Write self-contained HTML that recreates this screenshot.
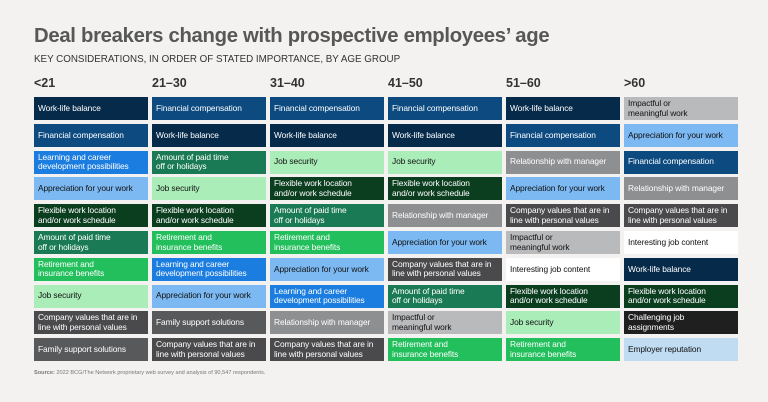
<!DOCTYPE html>
<html><head><meta charset="utf-8"><style>
body{margin:0;width:768px;height:402px;background:#f3f2f0;font-family:"Liberation Sans",sans-serif;position:relative;overflow:hidden}
.t{position:absolute;left:34px;top:25px;font-size:20.3px;font-weight:bold;color:#575757;letter-spacing:-0.3px}
.s{position:absolute;left:34px;top:54px;font-size:9.8px;color:#333}
.h{position:absolute;top:76px;font-size:12.5px;font-weight:bold;color:#333}
.b{position:absolute;width:114px;height:23px;box-sizing:border-box;padding:0 4px;display:flex;align-items:center;font-size:8.4px;line-height:9.6px;color:#fff;white-space:nowrap;letter-spacing:-0.1px}
.src{position:absolute;left:34px;top:370px;font-size:5.6px;color:#777}
</style></head><body>
<div class="t">Deal breakers change with prospective employees’ age</div>
<div class="s">KEY CONSIDERATIONS, IN ORDER OF STATED IMPORTANCE, BY AGE GROUP</div>
<div id="grid"></div>
<div class="src"><b>Source:</b> 2022 BCG/The Network proprietary web survey and analysis of 90,547 respondents.</div>
<script>
const groups=["<21","21–30","31–40","41–50","51–60",">60"];
const rankings=[
["Work-life balance","Financial compensation","Learning and career development possibilities","Appreciation for your work","Flexible work location and/or work schedule","Amount of paid time off or holidays","Retirement and insurance benefits","Job security","Company values that are in line with personal values","Family support solutions"],
["Financial compensation","Work-life balance","Amount of paid time off or holidays","Job security","Flexible work location and/or work schedule","Retirement and insurance benefits","Learning and career development possibilities","Appreciation for your work","Family support solutions","Company values that are in line with personal values"],
["Financial compensation","Work-life balance","Job security","Flexible work location and/or work schedule","Amount of paid time off or holidays","Retirement and insurance benefits","Appreciation for your work","Learning and career development possibilities","Relationship with manager","Company values that are in line with personal values"],
["Financial compensation","Work-life balance","Job security","Flexible work location and/or work schedule","Relationship with manager","Appreciation for your work","Company values that are in line with personal values","Amount of paid time off or holidays","Impactful or meaningful work","Retirement and insurance benefits"],
["Work-life balance","Financial compensation","Relationship with manager","Appreciation for your work","Company values that are in line with personal values","Impactful or meaningful work","Interesting job content","Flexible work location and/or work schedule","Job security","Retirement and insurance benefits"],
["Impactful or meaningful work","Appreciation for your work","Financial compensation","Relationship with manager","Company values that are in line with personal values","Interesting job content","Work-life balance","Flexible work location and/or work schedule","Challenging job assignments","Employer reputation"]];
const colors={"Work-life balance":["#052a4a","#fff"],"Financial compensation":["#0c4a80","#fff"],"Learning and career development possibilities":["#1b7ddf","#fff"],"Appreciation for your work":["#7cb9f2","#111"],"Flexible work location and/or work schedule":["#0b3d1f","#fff"],"Amount of paid time off or holidays":["#1b7a56","#fff"],"Retirement and insurance benefits":["#22bf5c","#fff"],"Job security":["#aaedb9","#111"],"Company values that are in line with personal values":["#4a4a4c","#fff"],"Family support solutions":["#58595b","#fff"],"Relationship with manager":["#8e8f91","#fff"],"Impactful or meaningful work":["#b9babc","#111"],"Interesting job content":["#ffffff","#111"],"Challenging job assignments":["#1f1f20","#fff"],"Employer reputation":["#c0dcf2","#111"]};
const breaks={"Learning and career development possibilities":"Learning and career<br>development possibilities","Flexible work location and/or work schedule":"Flexible work location<br>and/or work schedule","Amount of paid time off or holidays":"Amount of paid time<br>off or holidays","Retirement and insurance benefits":"Retirement and<br>insurance benefits","Company values that are in line with personal values":"Company values that are in<br>line with personal values","Impactful or meaningful work":"Impactful or<br>meaningful work","Challenging job assignments":"Challenging job<br>assignments"};
const g=document.getElementById('grid');
const colX=i=>34+i*118, rowY=r=>97+r*26.8;
groups.forEach((name,i)=>{
 const h=document.createElement('div');h.className='h';h.style.left=colX(i)+'px';h.textContent=name;
 
 
 g.appendChild(h);
 rankings[i].forEach((item,r)=>{
  const b=document.createElement('div');b.className='b';
  b.style.left=colX(i)+'px';b.style.top=rowY(r)+'px';
  const c=colors[item];b.style.background=c[0];b.style.color=c[1];
  b.innerHTML='<span>'+(breaks[item]||item)+'</span>';
  
  
  g.appendChild(b);
 });
});
</script>
</body></html>
